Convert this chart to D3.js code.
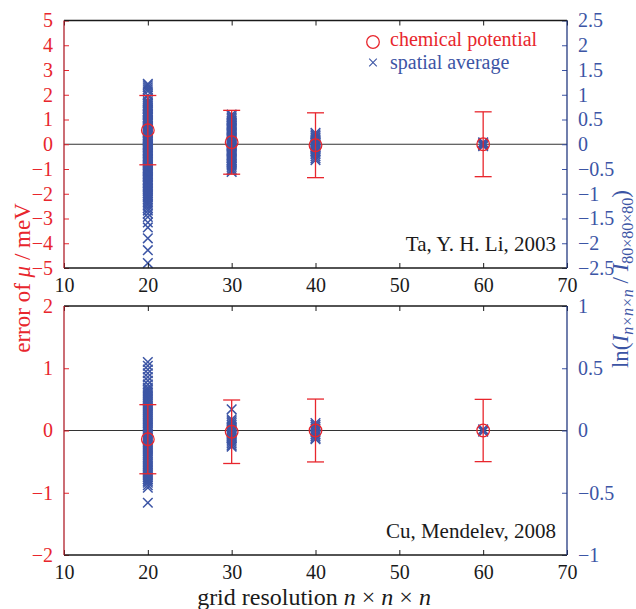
<!DOCTYPE html>
<html><head><meta charset="utf-8">
<script src="https://cdn.jsdelivr.net/npm/d3@7"></script>
<style>
body{margin:0;background:#fff}
svg{display:block}
text{font-family:"Liberation Serif","Times New Roman",serif}
</style>
</head><body>
<svg id="chart" width="636" height="609"></svg>
<script>
// grid resolutions n (n×n×n)
const resolutions = [20, 30, 40, 60];
const xTicks = [10, 20, 30, 40, 50, 60, 70];

// Ta, Y. H. Li, 2003 — chemical potential error (meV) and its error bar
const taMu = [0.57, 0.08, -0.04, 0.0];
const taMuErr = [1.40, 1.29, 1.31, 1.31];
// Ta — ln(I_nxnxn / I_80x80x80) spatial averages
const taAvg20 = [1.22, 1.19, 1.15, 1.11, 1.07, 0.99, 0.92, 0.87,
  0.84, 0.82, 0.79, 0.77, 0.74, 0.72, 0.70, 0.67, 0.65, 0.62, 0.60, 0.58, 0.55, 0.53, 0.50, 0.48, 0.46,
  0.43, 0.41, 0.38, 0.36, 0.34, 0.31, 0.29, 0.26, 0.24, 0.22, 0.19, 0.17, 0.14, 0.12, 0.10, 0.07, 0.05,
  0.02, 0.00, -0.02, -0.05, -0.07, -0.10, -0.12, -0.14, -0.17, -0.19, -0.22, -0.24, -0.26, -0.29, -0.31,
  -0.34, -0.36, -0.38, -0.41, -0.43, -0.46, -0.48, -0.50, -0.53, -0.55, -0.58, -0.60, -0.62, -0.65, -0.67,
  -0.70, -0.72, -0.74, -0.77, -0.79, -0.82, -0.84, -0.87, -0.90, -0.93, -0.96, -0.99, -1.02, -1.05, -1.08,
  -1.12, -1.16, -1.20, -1.24, -1.29, -1.34, -1.40, -1.47, -1.58, -1.68, -1.90, -2.14, -2.40];
const taAvg30 = [0.60, 0.57, 0.54, 0.51, 0.48, 0.46, 0.43, 0.41, 0.38, 0.36, 0.33, 0.31, 0.28, 0.26, 0.23,
  0.21, 0.18, 0.16, 0.13, 0.11, 0.08, 0.06, 0.03, 0.01, -0.02, -0.04, -0.07, -0.09, -0.12, -0.14, -0.17,
  -0.19, -0.22, -0.24, -0.27, -0.29, -0.32, -0.34, -0.37, -0.40, -0.43, -0.46, -0.50, -0.53, -0.56];
const taAvg40 = [0.23, 0.20, 0.17, 0.14, 0.12, 0.09, 0.07, 0.04, 0.02, -0.01, -0.03, -0.06, -0.08, -0.11,
  -0.14, -0.17, -0.20, -0.24, -0.28, -0.32];
const taAvg60 = [0.04, 0.02, 0.00, -0.02, -0.04];

// Cu, Mendelev, 2008
const cuMu = [-0.14, -0.02, 0.0, 0.0];
const cuMuErr = [0.555, 0.51, 0.505, 0.50];
const cuAvg20 = [0.55, 0.52, 0.49, 0.46, 0.43, 0.40, 0.37, 0.345, 0.33, 0.315, 0.30, 0.285, 0.27, 0.255,
  0.24, 0.225, 0.21, 0.195, 0.18, 0.165, 0.15, 0.135, 0.12, 0.105, 0.09, 0.075, 0.06, 0.045, 0.03, 0.015,
  0.00, -0.015, -0.03, -0.045, -0.06, -0.075, -0.09, -0.105, -0.12, -0.135, -0.15, -0.165, -0.18, -0.195,
  -0.21, -0.225, -0.24, -0.255, -0.27, -0.285, -0.30, -0.315, -0.33, -0.345, -0.36, -0.375, -0.39, -0.405,
  -0.42, -0.44, -0.46, -0.58];
const cuAvg30 = [0.17, 0.09, 0.075, 0.06, 0.045, 0.03, 0.015, 0.00, -0.015, -0.03, -0.045, -0.06, -0.075,
  -0.09, -0.105, -0.12, -0.13];
const cuAvg40 = [0.06, 0.045, 0.03, 0.015, 0.00, -0.015, -0.03, -0.045, -0.06, -0.07];
const cuAvg60 = [0.01, 0.00, -0.01];

// axis tick values
const taLeftTicks = [-5, -4, -3, -2, -1, 0, 1, 2, 3, 4, 5];
const taRightTicks = [-2.5, -2, -1.5, -1, -0.5, 0, 0.5, 1, 1.5, 2, 2.5];
const cuLeftTicks = [-2, -1, 0, 1, 2];
const cuRightTicks = [-1, -0.5, 0, 0.5, 1];

const legendLabels = ["chemical potential", "spatial average"];

const RED = "#e8262d", BLUE = "#3c55a5", BLACK = "#1a1a1a";
const fmt = d => String(d).replace("-", "\u2212");

const svg = d3.select("#chart");
const X0 = 64, X1 = 567;
const x = d3.scaleLinear().domain([10, 70]).range([X0, X1]);

const panels = [
  { top: 20.5, bottom: 268, left: [-5, 5], right: [-2.5, 2.5], leftTicks: taLeftTicks, rightTicks: taRightTicks,
    mu: taMu, err: taMuErr, avgs: [taAvg20, taAvg30, taAvg40, taAvg60], label: "Ta, Y. H. Li, 2003", legend: true },
  { top: 306, bottom: 555, left: [-2, 2], right: [-1, 1], leftTicks: cuLeftTicks, rightTicks: cuRightTicks,
    mu: cuMu, err: cuMuErr, avgs: [cuAvg20, cuAvg30, cuAvg40, cuAvg60], label: "Cu, Mendelev, 2008", legend: false }
];

const TICK = 5, FS = 20;

panels.forEach(p => {
  const g = svg.append("g");
  const yL = d3.scaleLinear().domain(p.left).range([p.bottom, p.top]);
  const yR = d3.scaleLinear().domain(p.right).range([p.bottom, p.top]);

  // zero reference line
  g.append("line").attr("x1", X0).attr("x2", X1).attr("y1", yL(0)).attr("y2", yL(0))
    .attr("stroke", "#333").attr("stroke-width", 1.2);

  // spatial average crosses (right axis)
  const pts = [];
  p.avgs.forEach((arr, i) => arr.forEach(v => pts.push({ n: resolutions[i], v })));
  const cs = 4.8;
  g.append("g").selectAll("path").data(pts).join("path")
    .attr("d", d => {
      const cx = x(d.n), cy = yR(d.v);
      return `M${cx - cs},${cy - cs}L${cx + cs},${cy + cs}M${cx - cs},${cy + cs}L${cx + cs},${cy - cs}`;
    })
    .attr("stroke", BLUE).attr("stroke-width", 1.5).attr("fill", "none");

  // chemical potential error bars and circles (left axis)
  const mus = resolutions.map((n, i) => ({ n, m: p.mu[i], e: p.err[i] }));
  const eb = g.append("g").selectAll("g").data(mus).join("g").attr("stroke", RED).attr("stroke-width", 1.3).attr("fill", "none");
  eb.append("line").attr("x1", d => x(d.n)).attr("x2", d => x(d.n))
    .attr("y1", d => yL(d.m + d.e)).attr("y2", d => yL(d.m - d.e));
  [1, -1].forEach(s => eb.append("line")
    .attr("x1", d => x(d.n) - 8.5).attr("x2", d => x(d.n) + 8.5)
    .attr("y1", d => yL(d.m + s * d.e)).attr("y2", d => yL(d.m + s * d.e)));
  eb.append("circle").attr("cx", d => x(d.n)).attr("cy", d => yL(d.m)).attr("r", 6.3);

  // axes (ticks point inward)
  const ax = d3.axisBottom(x).tickValues(xTicks).tickSize(-TICK).tickPadding(TICK + 5).tickFormat(d3.format("d"));
  const bx = g.append("g").attr("transform", `translate(0,${p.bottom})`).call(ax);
  bx.selectAll("text").attr("font-size", FS).attr("fill", BLACK).attr("font-family", "Liberation Serif");
  const tx = g.append("g").attr("transform", `translate(0,${p.top})`).call(d3.axisTop(x).tickValues(xTicks).tickSize(-TICK).tickFormat(""));
  [bx, tx].forEach(a => { a.select(".domain").remove(); a.selectAll("line").attr("stroke", BLACK); });

  const la = g.append("g").attr("transform", `translate(${X0},0)`)
    .call(d3.axisLeft(yL).tickValues(p.leftTicks).tickSize(-TICK).tickPadding(TICK + 6).tickFormat(fmt));
  la.select(".domain").remove();
  la.selectAll("line").attr("stroke", RED);
  la.selectAll("text").attr("font-size", FS).attr("fill", RED).attr("font-family", "Liberation Serif");

  const ra = g.append("g").attr("transform", `translate(${X1},0)`)
    .call(d3.axisRight(yR).tickValues(p.rightTicks).tickSize(-TICK).tickPadding(TICK + 6).tickFormat(fmt));
  ra.select(".domain").remove();
  ra.selectAll("line").attr("stroke", BLUE);
  ra.selectAll("text").attr("font-size", FS).attr("fill", BLUE).attr("font-family", "Liberation Serif");

  // frame
  g.append("line").attr("x1", X0).attr("x2", X1).attr("y1", p.top).attr("y2", p.top).attr("stroke", BLACK).attr("stroke-width", 1.3);
  g.append("line").attr("x1", X0).attr("x2", X1).attr("y1", p.bottom).attr("y2", p.bottom).attr("stroke", BLACK).attr("stroke-width", 1.3);
  g.append("line").attr("x1", X0).attr("x2", X0).attr("y1", p.top).attr("y2", p.bottom).attr("stroke", "#b0202a").attr("stroke-width", 1.3);
  g.append("line").attr("x1", X1).attr("x2", X1).attr("y1", p.top).attr("y2", p.bottom).attr("stroke", "#243a80").attr("stroke-width", 1.3);

  // dataset label
  g.append("text").attr("x", 556).attr("y", p.bottom - 17).attr("text-anchor", "end")
    .attr("font-size", 21).attr("fill", BLACK).text(p.label);

  if (p.legend) {
    const lg = g.append("g");
    lg.append("circle").attr("cx", 373).attr("cy", 42).attr("r", 6.3).attr("fill", "none").attr("stroke", RED).attr("stroke-width", 1.3);
    const c = 3.8, cx = 373, cy = 62.5;
    lg.append("path").attr("d", `M${cx - c},${cy - c}L${cx + c},${cy + c}M${cx - c},${cy + c}L${cx + c},${cy - c}`)
      .attr("stroke", BLUE).attr("stroke-width", 1.1);
    lg.append("text").attr("x", 390).attr("y", 46).attr("font-size", 20).attr("fill", RED).text(legendLabels[0]);
    lg.append("text").attr("x", 390).attr("y", 68.5).attr("font-size", 20).attr("fill", BLUE).text(legendLabels[1]);
  }
});

// left axis title
const lt = svg.append("text").attr("transform", "translate(30,278) rotate(-90)").attr("text-anchor", "middle")
  .attr("font-size", 23).attr("fill", RED);
lt.append("tspan").text("error of ");
lt.append("tspan").attr("font-style", "italic").text("\u03bc");
lt.append("tspan").text(" / meV");

// right axis title
const rt = svg.append("text").attr("transform", "translate(628,279) rotate(-90)").attr("text-anchor", "middle")
  .attr("font-size", 23).attr("fill", BLUE);
rt.append("tspan").text("ln(");
rt.append("tspan").attr("font-style", "italic").text("I");
rt.append("tspan").attr("font-size", 16).attr("dy", 5).attr("font-style", "italic").text("n\u00d7n\u00d7n");
rt.append("tspan").attr("dy", -5).text(" / ");
rt.append("tspan").attr("font-style", "italic").text("I");
rt.append("tspan").attr("font-size", 16).attr("dy", 5).text("80\u00d780\u00d780");
rt.append("tspan").attr("dy", -5).text(")");

// x axis title
const xt = svg.append("text").attr("x", 314).attr("y", 605).attr("text-anchor", "middle")
  .attr("font-size", 24).attr("fill", BLACK);
xt.append("tspan").text("grid resolution ");
xt.append("tspan").attr("font-style", "italic").text("n");
xt.append("tspan").text(" \u00d7 ");
xt.append("tspan").attr("font-style", "italic").text("n");
xt.append("tspan").text(" \u00d7 ");
xt.append("tspan").attr("font-style", "italic").text("n");
</script>
</body></html>
